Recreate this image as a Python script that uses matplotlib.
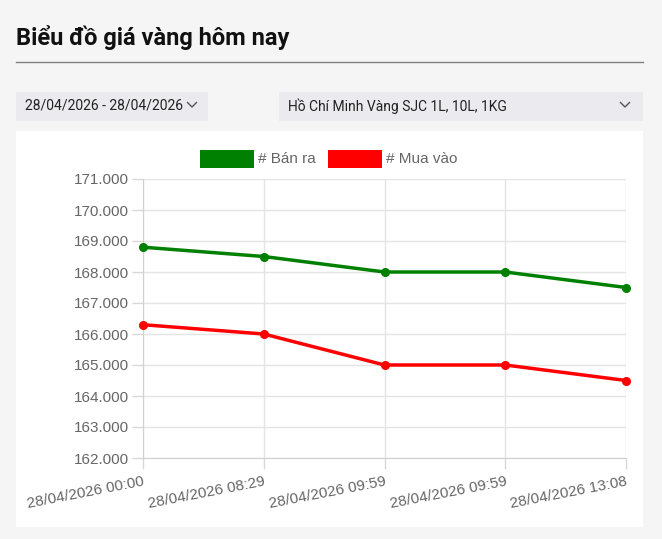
import matplotlib
matplotlib.use("Agg")
import matplotlib.pyplot as plt
from matplotlib.patches import Rectangle
from matplotlib.lines import Line2D

# dữ liệu
times = ["28/04/2026 00:00", "28/04/2026 08:29", "28/04/2026 09:59",
         "28/04/2026 09:59", "28/04/2026 13:08"]
ban_ra = [168.8, 168.5, 168.0, 168.0, 167.5]
mua_vao = [166.3, 166.0, 165.0, 165.0, 164.5]
y_ticks = [162, 163, 164, 165, 166, 167, 168, 169, 170, 171]
series_names = ["# Bán ra", "# Mua vào"]
series_colors = ["#008000", "#ff0000"]

W, H = 662, 539
fig = plt.figure(figsize=(W / 100, H / 100), dpi=100, facecolor="#f5f5f5")


def fx(px):
    return px / W


def fy(py):
    return 1 - py / H


# tiêu đề
fig.text(fx(16), fy(38), "Biểu đồ giá vàng hôm nay", fontsize=17, fontweight="bold",
         family="Roboto", color="#111111", va="center", ha="left")
fig.lines.append(Line2D([fx(16), fx(643)], [fy(62), fy(62)], color="#808080", lw=1,
                        transform=fig.transFigure))

# ô chọn
for x0, x1, txt, cx in [(16, 208, "28/04/2026 - 28/04/2026", 192),
                        (279, 643, "Hồ Chí Minh Vàng SJC 1L, 10L, 1KG", 625)]:
    fig.patches.append(Rectangle((fx(x0), fy(121)), fx(x1 - x0), (121 - 92) / H,
                                 transform=fig.transFigure, facecolor="#ebebef",
                                 edgecolor="none", zorder=-2))
    fig.text(fx(x0 + 9), fy(106), txt, fontsize=10, family="Roboto", color="#222222",
             va="center", ha="left")
    fig.lines.append(Line2D([fx(cx - 4.5), fx(cx), fx(cx + 4.5)], [fy(102.5), fy(107), fy(102.5)],
                            color="#555555", lw=1, transform=fig.transFigure))

# khung biểu đồ
fig.patches.append(Rectangle((fx(16), fy(527)), fx(643 - 16), (527 - 131) / H,
                             transform=fig.transFigure, facecolor="white",
                             edgecolor="none", zorder=-2))

ax = fig.add_axes([fx(143), fy(458), fx(626 - 143), (458 - 179) / H])
ax.set_facecolor("white")
xs = list(range(len(times)))
for vals, c in zip([ban_ra, mua_vao], series_colors):
    ax.plot(xs, vals, color=c, lw=2.5, marker="o", markersize=5.5, clip_on=False, zorder=3)

ax.set_xlim(0, len(times) - 1)
ax.set_ylim(162, 171)
ax.set_yticks(y_ticks)
ax.set_yticklabels([f"{v}.000" for v in y_ticks])
ax.set_xticks(xs)
ax.set_xticklabels(times, rotation=11, ha="right", rotation_mode="anchor")
ax.grid(True, color="#e4e4e4", lw=1)
ax.tick_params(axis="both", colors="#d8d8d8", length=8, width=1, labelcolor="#666666",
               labelsize=11)
ax.tick_params(axis="y", pad=2)
ax.tick_params(axis="x", pad=4)
for lab in ax.get_xticklabels() + ax.get_yticklabels():
    lab.set_family("Liberation Sans")
for s in ["top", "right"]:
    ax.spines[s].set_visible(False)
for s in ["left", "bottom"]:
    ax.spines[s].set_color("#d0d0d0")

# chú thích
for (bx, tx), name, c in zip([(200, 258), (328, 386)], series_names, series_colors):
    fig.patches.append(Rectangle((fx(bx), fy(168)), fx(54), 18 / H, transform=fig.transFigure,
                                 facecolor=c, edgecolor="none"))
    fig.text(fx(tx), fy(159), name, fontsize=11, family="Liberation Sans", color="#666666",
             va="center", ha="left")

fig.savefig("out.png", dpi=100, facecolor=fig.get_facecolor())
